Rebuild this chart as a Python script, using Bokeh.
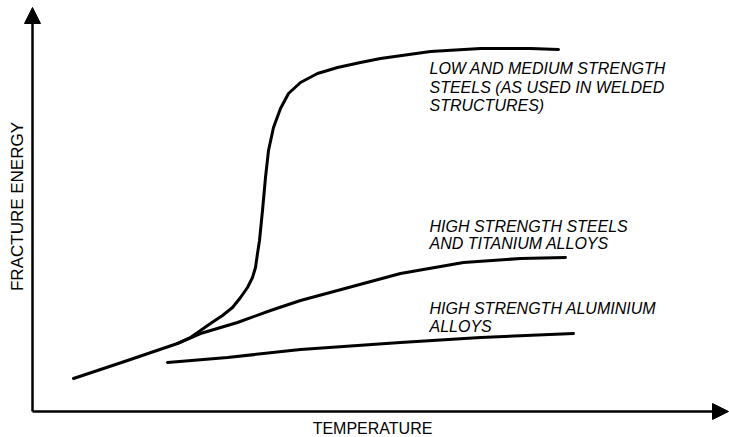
from bokeh.plotting import figure
from bokeh.models import Range1d, Arrow, NormalHead, ColumnDataSource
from bokeh.core.properties import value
from bokeh.embed import file_html
from bokeh.resources import INLINE
import math

# Data (arbitrary units: temperature on x, fracture energy on y)
low_med_temp = [41, 95, 145, 158, 168, 178, 190, 200, 208, 215, 220, 223, 225, 227,
                230, 233, 236, 241, 248, 256, 268, 285, 305, 328, 348, 398, 448, 498, 526]
low_med_energy = [33, 51, 68, 74, 81, 88, 96, 104, 114, 124, 134, 144, 158, 171,
                  201, 234, 261, 284, 303, 318, 329, 338, 344, 349, 353, 360, 363, 363, 362]

high_steel_temp = [145, 168, 205, 238, 268, 368, 431, 488, 533]
high_steel_energy = [68, 78, 89, 101, 111, 138, 149, 153, 154]

alu_temp = [135, 195, 268, 368, 448, 541]
alu_energy = [49, 54, 62, 69, 74, 78]

label_lines = [
    "LOW AND MEDIUM STRENGTH",
    "STEELS (AS USED IN WELDED",
    "STRUCTURES)",
    "HIGH STRENGTH STEELS",
    "AND TITANIUM ALLOYS",
    "HIGH STRENGTH ALUMINIUM",
    "ALLOYS",
]
label_x = [397, 397, 397, 397, 397, 397, 397]
label_y = [343, 324, 306, 185, 168, 103, 85]

x_title = "TEMPERATURE"
y_title = "FRACTURE ENERGY"
x_axis_end = 696
y_axis_end = 404

p = figure(width=729, height=437, output_backend="svg", toolbar_location=None,
           x_range=Range1d(-32, 697), y_range=Range1d(-26, 411),
           min_border=0, outline_line_color=None)
p.xaxis.visible = False
p.yaxis.visible = False
p.grid.visible = False
p.background_fill_color = "white"
p.border_fill_color = "white"

line_kw = dict(line_color="black", line_width=3, line_cap="round", line_join="round")
p.line(low_med_temp, low_med_energy, **line_kw)
p.line(high_steel_temp, high_steel_energy, **line_kw)
p.line(alu_temp, alu_energy, **line_kw)

# Axes with arrow heads
p.add_layout(Arrow(end=NormalHead(size=16, fill_color="black", line_color="black"),
                   x_start=0, y_start=0, x_end=x_axis_end, y_end=0,
                   line_width=2.5, line_color="black"))
p.add_layout(Arrow(end=NormalHead(size=16, fill_color="black", line_color="black"),
                   x_start=0, y_start=0, x_end=0, y_end=y_axis_end,
                   line_width=2.5, line_color="black"))

src = ColumnDataSource(dict(x=label_x, y=label_y, t=label_lines))
p.text(x="x", y="y", text="t", source=src, text_font=value("Liberation Sans"),
       text_font_style="italic", text_font_size="16px", text_color="black",
       text_align="left", text_baseline="alphabetic")

p.text(x=[340], y=[-17], text=[x_title], text_font=value("Liberation Sans"),
       text_font_size="16px", text_color="black", text_align="center",
       text_baseline="alphabetic")
p.text(x=[-15], y=[205], text=[y_title], angle=math.pi / 2,
       text_font=value("Liberation Sans"), text_font_size="17px", text_color="black",
       text_align="center", text_baseline="alphabetic")

open("out.html", "w").write(file_html(p, INLINE))
